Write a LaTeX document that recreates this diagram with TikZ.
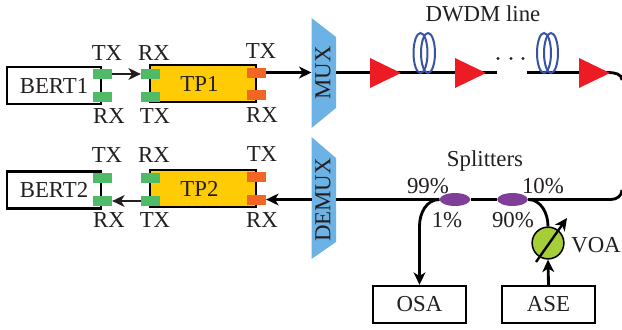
\documentclass[tikz,border=0pt]{standalone}
\usepackage{fontspec}
\setmainfont{Liberation Serif}
\usetikzlibrary{arrows.meta,shapes.geometric}
\definecolor{txtgrey}{HTML}{231F20}
\definecolor{portgreen}{HTML}{4FBA68}
\definecolor{portorange}{HTML}{F26522}
\definecolor{tpyellow}{HTML}{FFCB05}
\definecolor{muxblue}{HTML}{6CB2E4}
\definecolor{ampred}{HTML}{ED1C24}
\definecolor{coilblue}{HTML}{3953A4}
\definecolor{splitpurple}{HTML}{7F3F98}
\definecolor{voagreen}{HTML}{A6CE39}
\tikzset{
  every node/.style={font=\fontsize{19.4}{22}\selectfont, text=txtgrey},
  box/.style={draw=black, line width=2pt, inner sep=0pt, minimum width=79.5pt, minimum height=31.5pt},
  tpbox/.style={box, fill=tpyellow, minimum width=90pt},
  greenport/.style={fill=portgreen, inner sep=0pt, minimum width=16pt, minimum height=8.5pt},
  orangeport/.style={fill=portorange, inner sep=0pt, minimum width=16pt, minimum height=8.5pt},
  fiber/.style={draw=black, line width=2.4pt},
  link/.style={draw=txtgrey, line width=2pt},
  mux/.style={fill=muxblue},
  amp/.style={fill=ampred},
  coil/.style={draw=coilblue, line width=1.7pt},
  splitter/.style={ellipse, fill=splitpurple, inner sep=0pt, minimum width=26pt, minimum height=11pt}
}
\begin{document}
\begin{tikzpicture}[x=0.85pt, y=-0.85pt, >={Stealth[length=10.5pt,width=10pt,inset=3pt]}]
\useasboundingbox (0,0) rectangle (622,329);
% mux and demux
\fill[mux] (311.5,18) -- (336,37) -- (336,108) -- (311.5,128) -- cycle;
\fill[mux] (311.5,137) -- (336,158) -- (336,242) -- (311.5,259) -- cycle;
\node[rotate=90] (MUX) at (323,73) {MUX};
\node[rotate=90] (DEMUX) at (323,200) {DEMUX};
\coordinate (MUXin) at (311.5,72.5);
\coordinate (MUXout) at (336,72.5);
\coordinate (DEMUXin) at (336,199.5);
\coordinate (DEMUXout) at (311.5,199.5);
% boxes
\node[box] (BERT1) at (54,85.5) {BERT1};
\node[box] (BERT2) at (54,190) {BERT2};
\node[tpbox] (TP1) at (203,83.5) {\hspace*{-6pt}TP1};
\node[tpbox] (TP2) at (203,188.5) {\hspace*{-6pt}TP2};
\node[box] (OSA) at (419.5,304.5) {OSA};
\node[box] (ASE) at (548.5,304.5) {ASE};
% ports
\node[greenport] (B1a) at (102.5,74) {};
\node[greenport] (B1b) at (102.5,97) {};
\node[greenport] (T1a) at (150.5,74) {};
\node[greenport] (T1b) at (150.5,97) {};
\node[orangeport] (T1c) at (256.5,72.5) {};
\node[orangeport] (T1d) at (256.5,95) {};
\node[greenport] (B2a) at (102.5,178) {};
\node[greenport] (B2b) at (102.5,201) {};
\node[greenport] (T2a) at (150.5,178) {};
\node[greenport] (T2b) at (150.5,201) {};
\node[orangeport] (T2c) at (256.5,177) {};
\node[orangeport] (T2d) at (256.5,199.5) {};
% port labels
\node (l1) at (107,53) {TX};
\node (l2) at (154,53) {RX};
\node (l3) at (261,51) {TX};
\node (l4) at (109,116) {RX};
\node (l5) at (155,116) {TX};
\node (l6) at (262,115) {RX};
\node (l7) at (107,155) {TX};
\node (l8) at (154,155) {RX};
\node (l9) at (262,154) {TX};
\node (l10) at (109,220) {RX};
\node (l11) at (155,220) {TX};
\node (l12) at (262,220) {RX};
\draw[link,->] (B1a) -- (T1a);
\draw[fiber,->] (T1c) -- (MUXin);
\draw[link,->] (T2b) -- (B2b);
\draw[fiber,->] (DEMUXout) -- (T2d);
% DWDM line
\coordinate (gapL) at (497,72.5);
\coordinate (gapR) at (527,72.5);
\coordinate (lineR) at (622,80);
\draw[fiber] (MUXout) -- (gapL);
\draw[fiber] (gapR) -- (608,72.5) to[out=0,in=90] (lineR);
\foreach \x in {370,455,579} \fill[amp] (\x,58) -- (\x+31,73) -- (\x,88) -- cycle;
\foreach \x in {420.5,428,544,551} \draw[coil] (\x,53) ellipse [x radius=7, y radius=20];
\foreach \x in {498,511,523} \fill[txtgrey] (\x,58.5) circle (1.3pt);
\node (DWDM) at (483,14) {DWDM line};
% splitters
\node[splitter] (S1) at (455,199.5) {};
\node[splitter] (S2) at (512.5,199.5) {};
\node[circle, draw=black, line width=1.3pt, fill=voagreen, inner sep=0pt, minimum size=27pt] (VOA) at (548,243) {};
\coordinate (lineL) at (622,190);
\coordinate (OSAbend) at (419.5,226);
\draw[fiber] (lineL) to[out=-90,in=0] (611,199.5) -- (S2.east);
\draw[fiber] (S2.west) -- (S1.east);
\draw[fiber] (S1.west) -- (DEMUXin);
\draw[fiber,->] (S1.west) to[out=180,in=90] (OSAbend) -- (OSA.north);
\draw[fiber] (S2.east) to[out=0,in=90] (VOA.north);
\draw[fiber,->] (ASE.north) -- (VOA.south);
\coordinate (VOAa) at (536,262);
\coordinate (VOAb) at (567,218);
\draw[link,draw=black,->] (VOAa) -- (VOAb);
\node (Splitters) at (485,161) {Splitters};
\node (p99) at (428,186) {99\%};
\node (p10) at (543,186) {10\%};
\node (p1) at (447,220) {1\%};
\node (p90) at (513,220) {90\%};
\node (VOAlabel) at (596,245) {VOA};
\end{tikzpicture}
\end{document}
